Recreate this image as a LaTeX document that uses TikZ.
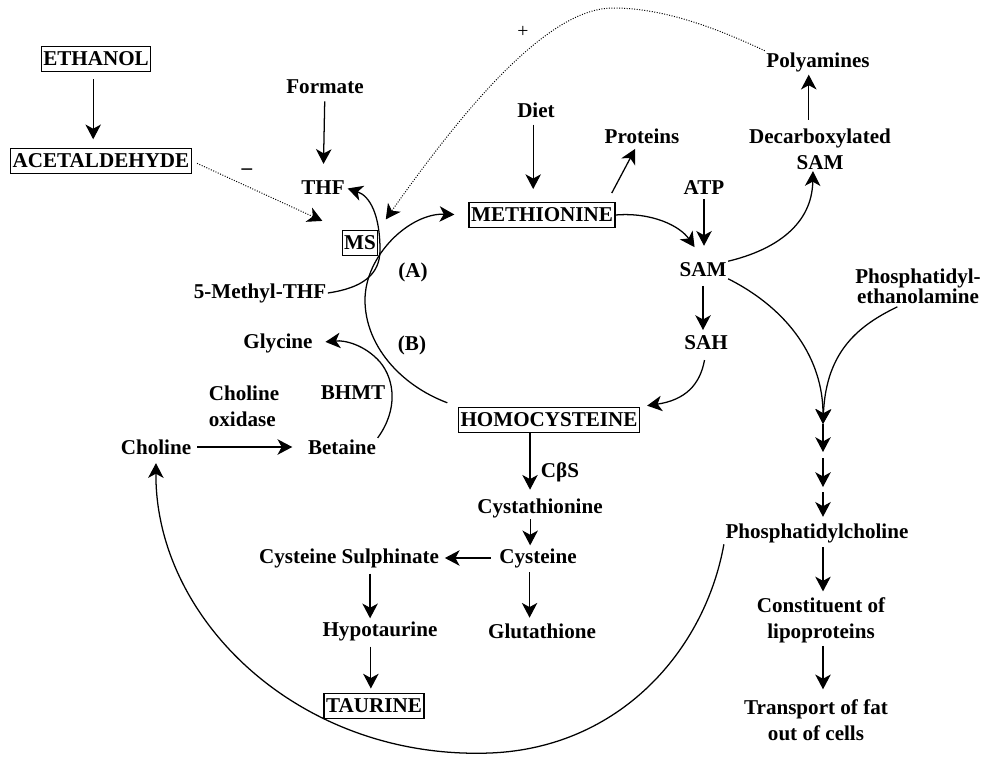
\documentclass[tikz,border=0pt]{standalone}
\usepackage{fontspec}
\setmainfont{Liberation Serif}
\usepackage{tikz}
\usetikzlibrary{arrows.meta, positioning, calc}

\tikzset{
  lbl/.style={font=\fontsize{15}{18.5}\selectfont\bfseries, inner sep=1pt},
  boxed/.style={lbl, draw, line width=0.8pt, inner xsep=1.5pt, inner ysep=4pt},
  arr/.style={-{Stealth[length=10.5pt, width=11pt, inset=3pt]}, line width=0.9pt},
  dotarr/.style={arr, line width=0.7pt, dash pattern=on 0.7pt off 1.1pt},
}

\begin{document}
\begin{tikzpicture}[x=0.025cm, y=-0.025cm]
    \fill[white] (0,0) rectangle (986,757);
    \useasboundingbox (0,0) rectangle (986,757);

    % ethanol and folate
    \node[boxed] (ethanol) at (96,59) {ETHANOL};
    \node[boxed] (acet) at (101,161) {ACETALDEHYDE};
    \node[lbl] (formate) at (325,87) {Formate};
    \node[lbl] (thf) at (323,188) {THF};
    \node[boxed] (ms) at (360,243) {MS};
    \node[lbl] (mthf) at (260,293) {5-Methyl-THF};
    \node[lbl] (minus) at (247,172) {--};
    \node[lbl, font=\fontsize{14}{16}\selectfont] (plus) at (523,32) {+};

    % methionine cycle
    \node[lbl] (diet) at (536,110) {Diet};
    \node[boxed] (met) at (542,215) {METHIONINE};
    \node[lbl] (proteins) at (642,136) {Proteins};
    \node[lbl] (atp) at (704,188) {ATP};
    \node[lbl] (sam) at (703,270) {SAM};
    \node[lbl] (sah) at (706,343) {SAH};
    \node[boxed] (homo) at (549,420) {HOMOCYSTEINE};
    \node[lbl] (cycA) at (413,272) {(A)};
    \node[lbl] (cycB) at (412,345) {(B)};
    \node[lbl, align=center] (dcsam) at (820,149) {Decarboxylated\\SAM};
    \node[lbl] (polyam) at (818,62) {Polyamines};

    % betaine route
    \node[lbl] (glycine) at (278,343) {Glycine};
    \node[lbl] (bhmt) at (353,393) {BHMT};
    \node[lbl, align=left] (cholox) at (244,406) {Choline\\oxidase};
    \node[lbl] (choline) at (156,447) {Choline};
    \node[lbl] (betaine) at (342,447) {Betaine};

    % transsulfuration
    \node[lbl] (cbs) at (560,472) {CβS};
    \node[lbl] (cysta) at (540,508) {Cystathionine};
    \node[lbl] (cys) at (538,558) {Cysteine};
    \node[lbl] (cyssul) at (349,558) {Cysteine Sulphinate};
    \node[lbl] (hypo) at (380,631) {Hypotaurine};
    \node[boxed] (taurine) at (374,706) {TAURINE};
    \node[lbl] (gsh) at (542,631) {Glutathione};

    % phosphatidylcholine
    \node[lbl, align=center] (pe) at (918,286) {Phosphatidyl-\\[-4.5pt]ethanolamine};
    \node[lbl] (pc) at (817,533) {Phosphatidylcholine};
    \node[lbl, align=center] (lipo) at (821,620) {Constituent of\\lipoproteins};
    \node[lbl, align=center] (fat) at (816,720) {Transport of fat\\out of cells};
    \coordinate (pc1) at (823,424);
    \coordinate (pc2) at (823,452);
    \coordinate (pc3) at (823,458);
    \coordinate (pc4) at (823,487);
    \coordinate (pc5) at (823,492);

    % connectors
    \draw[arr, shorten <=5pt, shorten >=6pt] ([xshift=-2pt]ethanol.south) -- ([xshift=-2pt]ethanol.south |- acet.north);
    \draw[dotarr, shorten <=4pt, shorten >=15pt] (acet.east) -- (ms.north west);
    \draw[arr, shorten <=4pt, shorten >=11pt] (formate) -- (thf);
    \draw[arr, shorten >=1pt] (mthf.east) .. controls (362,288) and (380,275) .. (380,250)
        .. controls (380,215) and (370,196) .. (thf.east);
    \draw[dotarr, shorten >=9pt] (polyam.north west) .. controls (710,25) and (660,8) .. (613,8)
        .. controls (550,8) and (470,100) .. (ms.north east);

    \draw[arr, shorten <=8pt, shorten >=10pt] (homo.north west) .. controls (400,385) and (365,345) .. (365,300)
        .. controls (365,255) and (410,213) .. (met.west);
    \draw[arr, shorten >=8pt] (betaine.north east) .. controls (398,410) and (395,380) .. (380,362)
        .. controls (365,345) and (345,340) .. (glycine.east);
    \draw[arr, shorten <=3pt, shorten >=10pt] (choline) -- (betaine);

    \draw[arr, shorten <=4pt, shorten >=9pt] ([xshift=-2pt]diet.south) -- ([xshift=-2pt]diet.south |- met.north);
    \draw[arr, shorten <=7pt, shorten >=3pt] ([xshift=-6pt]met.north east) -- (proteins);
    \draw[arr, shorten <=2pt, shorten >=11pt] (atp) -- (atp |- sam.north);
    \draw[arr] (met.east) .. controls (652,212) and (680,226) .. ([xshift=-6pt,yshift=10pt]sam.north);
    \draw[arr] (sam.north east) .. controls (775,250) and (812,225) .. ([xshift=-5pt]dcsam.south);
    \draw[arr, shorten <=5pt, shorten >=1pt] ([xshift=-8pt]dcsam.north) -- ([xshift=-8pt]dcsam.north |- polyam.south);
    \draw[arr, shorten <=5pt, shorten >=3pt] (sam) -- (sam |- sah.north);
    \draw[arr, shorten <=6pt, shorten >=5pt] (sah.south) .. controls (700,385) and (685,400) .. (homo.north east);

    \draw[arr, shorten >=5pt] ([xshift=-13.5pt]homo.south) -- ([xshift=-13.5pt]homo.south |- cysta.north);
    \draw[arr, shorten >=1pt] ([xshift=-7pt]cysta.south) -- ([xshift=-7pt]cysta.south |- cys.north);
    \draw[arr, shorten <=2pt, shorten >=3pt] ([xshift=-6pt]cys.south) -- ([xshift=-6pt]cys.south |- gsh.north);
    \draw[arr, shorten <=5pt, shorten >=3pt] (cys) -- (cyssul);
    \draw[arr, shorten <=3pt, shorten >=1pt] ([xshift=15pt]cyssul.south) -- ([xshift=15pt]cyssul.south |- hypo.north);
    \draw[arr, shorten <=3pt, shorten >=3pt] ([xshift=-6.5pt]hypo.south) -- ([xshift=-6.5pt]hypo.south |- taurine.north);

    \draw[arr] (sam.south east) .. controls (790,310) and (823,360) .. (pc1);
    \draw[arr, shorten <=3pt] ([xshift=-12pt]pe.south) .. controls (860,325) and (826,350) .. (pc1);
    \draw[arr] (pc1) -- (pc2);
    \draw[arr] (pc3) -- (pc4);
    \draw[arr, shorten >=3.5pt] (pc5) -- (pc5 |- pc.north);
    \draw[arr, shorten <=2pt, shorten >=3pt] (pc.south -| pc1) -- (lipo.north -| pc1);
    \draw[arr, shorten <=1pt, shorten >=6pt] (lipo.south -| pc1) -- (fat.north -| pc1);
    \draw[arr, shorten >=5pt] (pc.south west) .. controls (705,650) and (620,748) .. (490,753)
        .. controls (300,760) and (155,620) .. (choline.south);
\end{tikzpicture}
\end{document}
